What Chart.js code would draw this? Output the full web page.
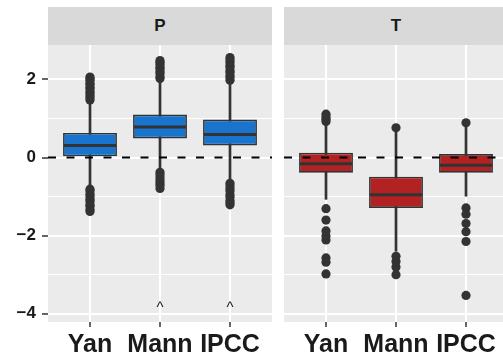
<!DOCTYPE html>
<html><head><meta charset="utf-8">
<script src="https://cdn.jsdelivr.net/npm/chart.js@4"></script>
<style>
html,body{margin:0;padding:0;background:#fff;overflow:hidden;width:503px;height:357px;}
.strip{position:absolute;top:7px;height:38px;background:#d9d9d9;font:bold 17px "Liberation Sans",Arial,sans-serif;color:#1a1a1a;display:flex;align-items:center;justify-content:center;}
.wrap{position:absolute;top:45px;height:312px;}
canvas{display:block;}
</style></head><body>
<div class="strip" id="sP" style="left:48px;width:224px"></div>
<div class="strip" id="sT" style="left:284px;width:224px"></div>
<div class="wrap" style="left:0;width:272px"><canvas id="cP" width="272" height="312"></canvas></div>
<div class="wrap" style="left:284px;width:224px"><canvas id="cT" width="224" height="312"></canvas></div>
<script>
const categories = ['Yan', 'Mann', 'IPCC'];
const facets = ['P', 'T'];
const yTicks = [-4, -3, -2, -1, 0, 1, 2];
const refLine = 0;

// P facet box statistics
const pWhiskerLow  = [-0.72, -0.33, -0.60];
const pQ1          = [0.03, 0.49, 0.31];
const pMedian      = [0.31, 0.78, 0.59];
const pQ3          = [0.63, 1.10, 0.97];
const pWhiskerHigh = [1.40, 1.97, 1.93];
const pOutliers = [
  [1.47, 1.53, 1.58, 1.64, 1.69, 1.76, 1.80, 1.87, 1.91, 1.98, 2.02, 2.06, -0.81, -0.86, -0.94, -1.00, -1.07, -1.12, -1.20, -1.25, -1.33, -1.38],
  [2.02, 2.07, 2.15, 2.20, 2.27, 2.31, 2.38, 2.44, 2.48, -0.38, -0.44, -0.52, -0.59, -0.65, -0.71, -0.79],
  [1.98, 2.05, 2.10, 2.18, 2.23, 2.31, 2.36, 2.44, 2.50, 2.56, -0.66, -0.73, -0.80, -0.86, -0.95, -1.01, -1.10, -1.15, -1.21]
];
const pMarks = [{cat: 'Mann', y: -3.85, text: '^'}, {cat: 'IPCC', y: -3.85, text: '^'}];

// T facet box statistics
const tWhiskerLow  = [-1.07, -2.40, -0.99];
const tQ1          = [-0.39, -1.29, -0.39];
const tMedian      = [-0.16, -0.95, -0.20];
const tQ3          = [0.12, -0.49, 0.09];
const tWhiskerHigh = [0.85, 0.66, 0.82];
const tOutliers = [
  [0.92, 0.98, 1.04, 1.11, -1.31, -1.60, -1.88, -2.01, -2.11, -2.57, -2.68, -2.98],
  [0.76, -2.53, -2.66, -2.80, -3.00],
  [0.89, -1.29, -1.45, -1.69, -1.90, -2.15, -3.53]
];
const tMarks = [];

const X_MIN = 0.4, X_MAX = 3.6, Y_MIN = -4.21, Y_MAX = 2.88;
const FONT = '"Liberation Sans", Arial, sans-serif';
const DARK = '#333333';

const bgPlugin = {
  id: 'panelBg',
  beforeDraw(chart) {
    const {ctx, chartArea: a} = chart;
    ctx.save(); ctx.fillStyle = '#ebebeb';
    ctx.fillRect(a.left, a.top, a.right - a.left, a.bottom - a.top);
    ctx.restore();
  }
};
const marksPlugin = {
  id: 'marks',
  afterDatasetsDraw(chart, args, opts) {
    const {ctx, scales} = chart;
    ctx.save();
    ctx.fillStyle = '#1a1a1a'; ctx.font = '15px ' + FONT;
    ctx.textAlign = 'center'; ctx.textBaseline = 'middle';
    (opts.items || []).forEach(m => {
      ctx.fillText(m.text, scales.x.getPixelForValue(categories.indexOf(m.cat) + 1), scales.y.getPixelForValue(m.y));
    });
    ctx.restore();
  }
};
function noPad(s) { s.paddingTop = 0; s.paddingBottom = 0; s.paddingLeft = 0; s.paddingRight = 0; }

function makePanel(id, fill, wl, q1, med, q3, wh, outl, marks, showY) {
  const whisk = categories.map((c, i) => ({x: i + 1, y: [wl[i], wh[i]]}));
  const box = categories.map((c, i) => ({x: i + 1, y: [q1[i], q3[i]]}));
  const mid = categories.map((c, i) => ({x: i + 1, y: med[i]}));
  const out = [];
  outl.forEach((arr, i) => arr.forEach(v => out.push({x: i + 1, y: v})));
  new Chart(document.getElementById(id), {
    type: 'bar',
    data: {
      datasets: [
        {type: 'bar', data: whisk, grouped: false, barThickness: 2, backgroundColor: DARK, borderWidth: 0, order: 5},
        {type: 'bar', data: box, grouped: false, barPercentage: 0.77, categoryPercentage: 1, backgroundColor: fill,
         borderColor: DARK, borderWidth: 1.7, borderSkipped: false, order: 4},
        {type: 'scatter', data: mid, pointStyle: 'line', pointRadius: 26, borderColor: DARK, borderWidth: 3, order: 3},
        {type: 'scatter', data: out, pointRadius: 4.6, backgroundColor: DARK, borderColor: DARK, borderWidth: 0, order: 2},
        {type: 'line', data: [{x: X_MIN, y: refLine}, {x: X_MAX, y: refLine}], borderColor: '#000', borderWidth: 2,
         borderDash: [8, 10.5], pointRadius: 0, order: 1}
      ]
    },
    options: {
      responsive: false, animation: false, devicePixelRatio: 1,
      layout: {padding: 0, autoPadding: false},
      plugins: {legend: {display: false}, tooltip: {enabled: false}, marks: {items: marks}},
      scales: {
        x: {
          type: 'linear', min: X_MIN, max: X_MAX, offset: false,
          afterBuildTicks: s => { s.ticks = categories.map((c, i) => ({value: i + 1})); },
          afterFit: s => { s.height = 35; noPad(s); },
          border: {display: false},
          grid: {offset: false, color: '#ffffff', lineWidth: 2, tickColor: DARK, tickLength: 5, tickWidth: 1.5},
          ticks: {callback: v => categories[Math.round(v) - 1], autoSkip: false, maxRotation: 0, padding: 3,
                  color: '#1a1a1a', font: {family: FONT, weight: 'bold', size: 25}}
        },
        y: {
          min: Y_MIN, max: Y_MAX,
          afterBuildTicks: s => { s.ticks = yTicks.map(v => ({value: v})); },
          afterFit: s => { s.width = showY ? 48 : 0; noPad(s); },
          border: {display: false},
          grid: {color: '#ffffff', lineWidth: c => (c.tick && c.tick.value % 2 === 0) ? 2 : 1,
                 drawTicks: showY, tickLength: 6, tickWidth: 1.5,
                 tickColor: c => (c.tick && c.tick.value % 2 === 0) ? DARK : 'rgba(0,0,0,0)'},
          ticks: {display: showY, padding: 6, color: '#1a1a1a', font: {family: FONT, weight: 'bold', size: 17},
                  callback: v => v % 2 === 0 ? String(v).replace('-', '\u2212') : ''}
        }
      }
    },
    plugins: [bgPlugin, marksPlugin]
  });
}

document.getElementById('sP').textContent = facets[0];
document.getElementById('sT').textContent = facets[1];
makePanel('cP', '#1874cd', pWhiskerLow, pQ1, pMedian, pQ3, pWhiskerHigh, pOutliers, pMarks, true);
makePanel('cT', '#b22222', tWhiskerLow, tQ1, tMedian, tQ3, tWhiskerHigh, tOutliers, tMarks, false);
</script>
</body></html>
